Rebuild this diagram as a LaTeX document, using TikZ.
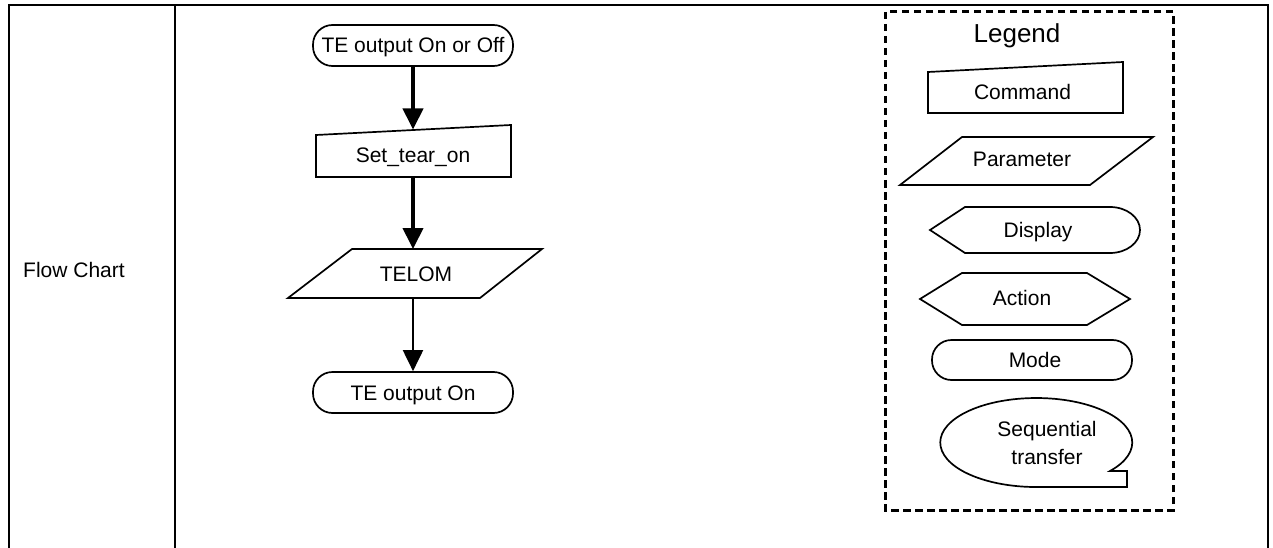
\documentclass[tikz,border=0pt]{standalone}
\usepackage{fontspec}
\setmainfont{Liberation Sans}
\usetikzlibrary{arrows.meta}
\begin{document}
\begin{tikzpicture}[x=1pt,y=1pt,
  lbl/.style={inner sep=0pt, font=\fontsize{21}{28}\selectfont},
  shp/.style={draw, line width=1.7pt, line join=miter},
  stad/.style={draw, line width=1.7pt, rounded corners=19.5pt, minimum width=200pt, minimum height=40pt,
     inner sep=0pt, text height=15pt, text depth=0pt, font=\fontsize{21}{25}\selectfont},
  flow/.style={-{Triangle[length=21pt,width=20pt]}},
  thickflow/.style={flow, line width=4pt},
  thinflow/.style={flow, line width=2pt},
]
\useasboundingbox (0,0) rectangle (1273,-548);
% table
\draw[line width=2pt] (9,-548) -- (9,-5) -- (1268,-5) -- (1268,-548);
\draw[line width=2pt] (175,-5) -- (175,-548);
\node[lbl, anchor=base west] (fc) at (23,-277) {Flow Chart};

% flow chart
\node[stad, minimum height=41pt] (start) at (413,-45.5) {TE output On or Off};

\draw[shp] (316,-135) -- (511,-125) -- (511,-177) -- (316,-177) -- cycle;
\node[lbl, anchor=base] (set) at (413,-163) {Set\_tear\_on};
\coordinate (settop) at (413,-129.5);
\coordinate (setbot) at (413,-177);

\draw[shp] (352,-249) -- (542,-249) -- (480,-298) -- (288,-298) -- cycle;
\node[lbl, anchor=base] (telom) at (416,-281.5) {TELOM};
\coordinate (telomtop) at (413,-249);
\coordinate (telombot) at (413,-298);

\node[stad, minimum height=41pt] (stop) at (413,-392.5) {TE output On};

\draw[thickflow] (start.south) -- (settop);
\draw[thickflow] (setbot) -- (telomtop);
\draw[thinflow] (telombot) -- (stop.north);

% legend
\draw[line width=3pt, dash pattern=on 7.5pt off 4.5pt] (885,-12) rectangle (1173,-510);
\node[inner sep=0pt, font=\fontsize{26}{30}\selectfont, anchor=base] (leg) at (1017,-43) {Legend};

\draw[shp] (928,-72) -- (1123,-62) -- (1123,-113) -- (928,-113) -- cycle;
\node[lbl, anchor=base] (cmd) at (1022.5,-100) {Command};

\draw[shp] (962,-137) -- (1153,-137) -- (1090,-185) -- (900,-185) -- cycle;
\node[lbl, anchor=base] (par) at (1022,-167) {Parameter};

\draw[shp] (930,-230) -- (965,-207) -- (1110,-207)
   arc[start angle=90, end angle=-90, x radius=30pt, y radius=23pt] -- (965,-253) -- cycle;
\node[lbl, anchor=base] (disp) at (1038,-237) {Display};

\draw[shp] (920,-299) -- (962,-273) -- (1087,-273) -- (1130,-299) -- (1087,-325) -- (962,-325) -- cycle;
\node[lbl, anchor=base] (act) at (1022,-305) {Action};

\node[stad] (mode) at (1032,-360) {\hspace*{6pt}Mode};

\draw[shp] (1110,-471) arc[start angle=-39.8, end angle=270, x radius=96pt, y radius=44.5pt]
   -- (1127,-487) -- (1127,-471) -- cycle;
\node[lbl, align=center] (seq) at (1047,-443.4) {Sequential\\transfer};
\end{tikzpicture}
\end{document}
